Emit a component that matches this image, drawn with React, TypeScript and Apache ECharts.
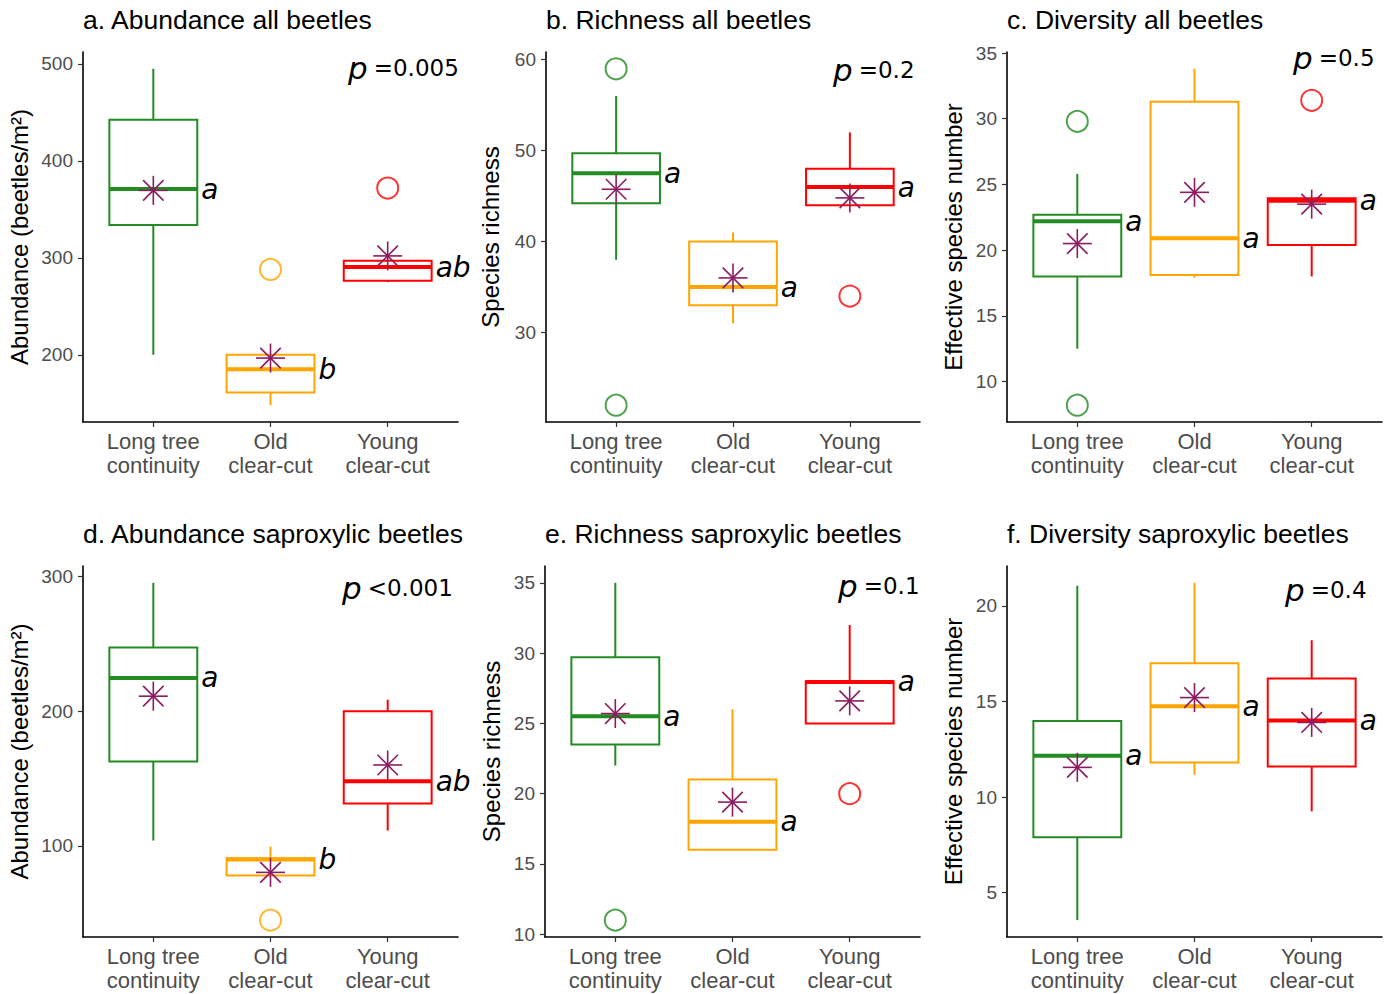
import React, { useEffect, useRef } from "react";
import * as echarts from "echarts";

// ---------- data ----------
const groups = ["Long tree\ncontinuity", "Old\nclear-cut", "Young\nclear-cut"];
const groupColors = ["#228B22", "#FFA500", "#FF0000"];
const meanColor = "#8B1C62";

// box stats: [lower whisker, Q1, median, Q3, upper whisker]
const abundAllStats = [
  [200, 334, 371, 442.5, 495],
  [148, 161, 185, 200, 200],
  [275, 276.4, 290.5, 297, 298],
];
const abundAllMeans = [369.6, 196.6, 302];
const abundAllOutliers = [[2, 288], [3, 372]];
const abundAllLetters = ["a", "b", "ab"];
const abundAllTicks = [200, 300, 400, 500];

const richAllStats = [
  [38, 44.2, 47.5, 49.7, 56],
  [31, 33, 35, 40, 41],
  [44, 44, 46, 48, 52],
];
const richAllMeans = [45.75, 36, 44.8];
const richAllOutliers = [[1, 59], [1, 22], [3, 34]];
const richAllLetters = ["a", "a", "a"];
const richAllTicks = [30, 40, 50, 60];

const divAllStats = [
  [12.5, 18.0, 22.2, 22.7, 25.8],
  [17.9, 18.1, 20.9, 31.3, 33.8],
  [18.0, 20.4, 23.75, 23.95, 23.95],
];
const divAllMeans = [20.5, 24.4, 23.5];
const divAllOutliers = [[1, 29.8], [1, 8.2], [3, 31.4]];
const divAllLetters = ["a", "a", "a"];
const divAllTicks = [10, 15, 20, 25, 30, 35];

const abundSapStats = [
  [104, 162.6, 224.5, 247, 295],
  [78, 78, 89.9, 90.8, 99.5],
  [111.4, 131.4, 148, 199.8, 208.4],
];
const abundSapMeans = [211, 80.4, 160];
const abundSapOutliers = [[2, 45]];
const abundSapLetters = ["a", "b", "ab"];
const abundSapTicks = [100, 200, 300];

const richSapStats = [
  [22, 23.5, 25.5, 29.7, 35],
  [16, 16, 18, 21, 26],
  [25, 25, 27.95, 28, 32],
];
const richSapMeans = [25.7, 19.4, 26.6];
const richSapOutliers = [[1, 11], [3, 20]];
const richSapLetters = ["a", "a", "a"];
const richSapTicks = [10, 15, 20, 25, 30, 35];

const divSapStats = [
  [3.56, 7.9, 12.16, 13.98, 21.05],
  [11.16, 11.8, 14.75, 17.0, 21.2],
  [9.25, 11.6, 14.0, 16.2, 18.2],
];
const divSapMeans = [11.55, 15.2, 13.9];
const divSapOutliers: number[][] = [];
const divSapLetters = ["a", "a", "a"];
const divSapTicks = [5, 10, 15, 20];

const panelTitles = [
  "a. Abundance all beetles",
  "b. Richness all beetles",
  "c. Diversity all beetles",
  "d. Abundance saproxylic beetles",
  "e. Richness saproxylic beetles",
  "f. Diversity saproxylic beetles",
];
const yNames = [
  "Abundance (beetles/m²)",
  "Species richness",
  "Effective species number",
  "Abundance (beetles/m²)",
  "Species richness",
  "Effective species number",
];
const pTexts = ["=0.005", "=0.2", "=0.5", "<0.001", "=0.1", "=0.4"];

// ---------- layout ----------
const layout = [
  { left: 83, top: 52, width: 375, height: 370, gap: 52, pl: 348, pt: 50, tt: 5 },
  { left: 546, top: 52, width: 374, height: 370, gap: 44, pl: 833, pt: 52, tt: 5 },
  { left: 1007, top: 52, width: 375, height: 370, gap: 42, pl: 1293, pt: 40, tt: 5 },
  { left: 83, top: 566, width: 375, height: 371, gap: 52, pl: 342, pt: 570, tt: 519 },
  { left: 545, top: 566, width: 375, height: 371, gap: 42, pl: 838, pt: 568, tt: 519 },
  { left: 1007, top: 566, width: 375, height: 371, gap: 42, pl: 1285, pt: 572, tt: 519 },
];

const panels = [
  { stats: abundAllStats, means: abundAllMeans, outliers: abundAllOutliers, letters: abundAllLetters, ticks: abundAllTicks },
  { stats: richAllStats, means: richAllMeans, outliers: richAllOutliers, letters: richAllLetters, ticks: richAllTicks },
  { stats: divAllStats, means: divAllMeans, outliers: divAllOutliers, letters: divAllLetters, ticks: divAllTicks },
  { stats: abundSapStats, means: abundSapMeans, outliers: abundSapOutliers, letters: abundSapLetters, ticks: abundSapTicks },
  { stats: richSapStats, means: richSapMeans, outliers: richSapOutliers, letters: richSapLetters, ticks: richSapTicks },
  { stats: divSapStats, means: divSapMeans, outliers: divSapOutliers, letters: divSapLetters, ticks: divSapTicks },
];

const SANS = '"Liberation Sans", Arial, sans-serif';
const DJV = '"DejaVu Sans", sans-serif';

function buildOption() {
  const grid: any[] = [];
  const xAxis: any[] = [];
  const yAxis: any[] = [];
  const series: any[] = [];
  const title: any[] = [];

  panels.forEach((p, i) => {
    const L = layout[i];
    grid.push({ left: L.left, top: L.top, width: L.width, height: L.height, containLabel: false });

    // y range like ggplot (5% expansion of data range)
    const all: number[] = [];
    p.stats.forEach((s) => all.push(...s));
    p.means.forEach((m) => all.push(m));
    p.outliers.forEach((o) => all.push(o[1]));
    const lo = Math.min(...all);
    const hi = Math.max(...all);
    const pad = (hi - lo) * 0.05;

    xAxis.push({
      type: "value",
      gridIndex: i,
      min: 0.4,
      max: 3.6,
      splitLine: { show: false },
      axisLine: { show: true, onZero: false, lineStyle: { color: "#000", width: 1.6 } },
      axisTick: { show: true, customValues: [1, 2, 3], length: 5, lineStyle: { color: "#333", width: 1.2 } },
      axisLabel: {
        show: true,
        customValues: [1, 2, 3],
        formatter: (v: number) => groups[Math.round(v) - 1] || "",
        color: "#4D4D4D",
        fontFamily: SANS,
        fontSize: 22,
        lineHeight: 24,
        margin: 7,
      },
    });
    yAxis.push({
      type: "value",
      gridIndex: i,
      min: lo - pad,
      max: hi + pad,
      splitLine: { show: false },
      axisLine: { show: true, onZero: false, lineStyle: { color: "#000", width: 1.6 } },
      axisTick: { show: true, customValues: p.ticks, length: 5, lineStyle: { color: "#333", width: 1.2 } },
      axisLabel: {
        show: true,
        customValues: p.ticks,
        color: "#4D4D4D",
        fontFamily: SANS,
        fontSize: 19,
        margin: 10,
      },
      name: yNames[i],
      nameLocation: "middle",
      nameRotate: 90,
      nameGap: L.gap,
      nameTextStyle: { color: "#000", fontFamily: SANS, fontSize: 24 },
    });

    const boxData = p.stats.map((s, k) => [k + 1, s[0], s[1], s[2], s[3], s[4], p.means[k]]);
    const letters = p.letters;
    series.push({
      type: "custom",
      xAxisIndex: i,
      yAxisIndex: i,
      data: boxData,
      encode: { x: 0, y: [1, 2, 3, 4, 5, 6] },
      z: 2,
      renderItem: (params: any, api: any) => {
        const x = api.value(0);
        const k = params.dataIndex;
        const color = groupColors[k];
        const wl = api.coord([x, api.value(1)]);
        const q1 = api.coord([x, api.value(2)]);
        const md = api.coord([x, api.value(3)]);
        const q3 = api.coord([x, api.value(4)]);
        const wh = api.coord([x, api.value(5)]);
        const mn = api.coord([x, api.value(6)]);
        const left = api.coord([x - 0.375, api.value(3)])[0];
        const right = api.coord([x + 0.375, api.value(3)])[0];
        const cx = md[0];
        const r = 14.5;
        const d = r / Math.SQRT2;
        const ls = { stroke: meanColor, lineWidth: 1.6 };
        return {
          type: "group",
          children: [
            { type: "line", shape: { x1: cx, y1: q3[1], x2: cx, y2: wh[1] }, style: { stroke: color, lineWidth: 2 } },
            { type: "line", shape: { x1: cx, y1: q1[1], x2: cx, y2: wl[1] }, style: { stroke: color, lineWidth: 2 } },
            {
              type: "rect",
              shape: { x: left, y: q3[1], width: right - left, height: q1[1] - q3[1] },
              style: { fill: "#ffffff", stroke: color, lineWidth: 2 },
            },
            { type: "line", shape: { x1: left, y1: md[1], x2: right, y2: md[1] }, style: { stroke: color, lineWidth: 4 } },
            { type: "line", shape: { x1: cx - r, y1: mn[1], x2: cx + r, y2: mn[1] }, style: ls },
            { type: "line", shape: { x1: cx, y1: mn[1] - r, x2: cx, y2: mn[1] + r }, style: ls },
            { type: "line", shape: { x1: cx - d, y1: mn[1] - d, x2: cx + d, y2: mn[1] + d }, style: ls },
            { type: "line", shape: { x1: cx - d, y1: mn[1] + d, x2: cx + d, y2: mn[1] - d }, style: ls },
            {
              type: "text",
              x: right + 4,
              y: md[1],
              style: {
                text: letters[k],
                fill: "#000",
                fontFamily: DJV,
                fontStyle: "italic",
                fontSize: 28,
                align: "left",
                verticalAlign: "middle",
              },
            },
          ],
        };
      },
    });

    series.push({
      type: "scatter",
      xAxisIndex: i,
      yAxisIndex: i,
      symbol: "emptyCircle",
      symbolSize: 21,
      z: 3,
      data: p.outliers.map((o) => ({
        value: [o[0], o[1]],
        itemStyle: { color: groupColors[o[0] - 1], borderColor: groupColors[o[0] - 1], borderWidth: 1.5 },
      })),
    });

    title.push({
      text: panelTitles[i],
      left: L.left,
      top: L.tt,
      padding: 0,
      textStyle: { fontFamily: SANS, fontSize: 26.5, fontWeight: "normal", color: "#000", lineHeight: 30 },
    });
    title.push({
      text: "{p|p}{v|" + pTexts[i] + "}",
      left: L.pl,
      top: L.pt,
      padding: 0,
      textStyle: {
        fontWeight: "normal",
        rich: {
          p: { fontFamily: DJV, fontStyle: "italic", fontWeight: "normal", fontSize: 31, color: "#000", lineHeight: 36, padding: [0, 6, 0, 0] },
          v: { fontFamily: DJV, fontWeight: "normal", fontSize: 23, color: "#000", lineHeight: 36 },
        },
      },
    });
  });

  return { animation: false, backgroundColor: "#ffffff", grid, xAxis, yAxis, series, title };
}

export default function App() {
  const ref = useRef<HTMLDivElement>(null);
  useEffect(() => {
    if (!ref.current) return;
    const chart = echarts.init(ref.current, undefined, { renderer: "svg" });
    chart.setOption(buildOption() as any);
    return () => chart.dispose();
  }, []);
  return (
    <div
      ref={ref}
      style={{ position: "absolute", left: 0, top: 0, width: 1388, height: 994, background: "#fff" }}
    />
  );
}
